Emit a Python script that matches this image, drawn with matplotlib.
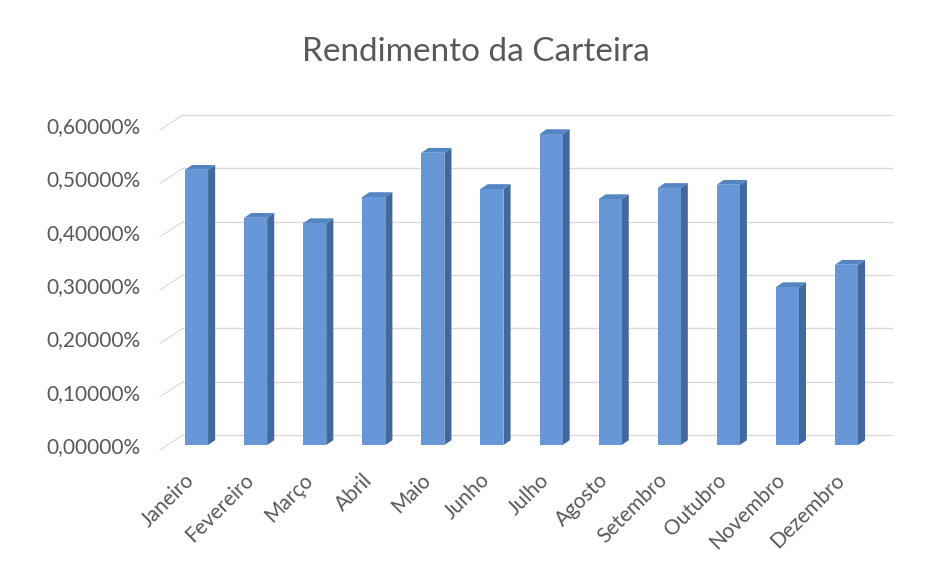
import matplotlib
matplotlib.use("Agg")
import matplotlib.pyplot as plt
from matplotlib.patches import Polygon
from matplotlib.transforms import ScaledTranslation

# Data (% values)
months = ['Janeiro', 'Fevereiro', 'Março', 'Abril', 'Maio', 'Junho',
          'Julho', 'Agosto', 'Setembro', 'Outubro', 'Novembro', 'Dezembro']
rendimento = [0.516, 0.426, 0.416, 0.465, 0.548, 0.480,
              0.583, 0.461, 0.482, 0.488, 0.296, 0.338]
yticks = [0.0, 0.1, 0.2, 0.3, 0.4, 0.5, 0.6]

# Style
FRONT = '#6797d6'
SIDE = '#41699d'
TOP = '#5584c2'
TEXT = '#595959'
GRID = '#d9d9d9'
BAR_W = 0.39
DEPTH_X = 0.12     # bar side depth in x data units
DEPTH_Y = 0.009    # bar side depth in y data units

plt.rcParams['font.family'] = ['Lato', 'DejaVu Sans']

fig = plt.figure(figsize=(9.31, 5.74), dpi=100)
ax = fig.add_axes([167 / 931, (574 - 445) / 574, 709 / 931, 320 / 574])
ax.set_xlim(-0.5, len(months) - 0.5)
ax.set_ylim(0, 0.6)
for s in ax.spines.values():
    s.set_visible(False)

# back wall gridlines (shifted up/right to fake the 3D wall)
back = ax.transData + ScaledTranslation(16 / 100, 10 / 100, fig.dpi_scale_trans)
for v in yticks:
    ax.plot([-0.5, len(months) - 0.5], [v, v], color=GRID, lw=1,
            transform=back, clip_on=False, zorder=0)
    # side wall lines
    ax.plot([-0.5 - 7 / 59, -0.5 + 16 / 59], [v - 5 / 533, v + 10 / 533],
            color=GRID, lw=0.8, clip_on=False, zorder=0)

# 3D-ish columns
x = range(len(months))
ax.bar(x, rendimento, width=BAR_W, color=FRONT, zorder=3)
for i, v in zip(x, rendimento):
    r = i + BAR_W / 2
    l = i - BAR_W / 2
    ax.add_patch(Polygon([(r, 0), (r + DEPTH_X, DEPTH_Y), (r + DEPTH_X, v + DEPTH_Y), (r, v)],
                         closed=True, facecolor=SIDE, edgecolor='none', zorder=2, clip_on=False))
    ax.add_patch(Polygon([(l, v), (r, v), (r + DEPTH_X, v + DEPTH_Y), (l + DEPTH_X, v + DEPTH_Y)],
                         closed=True, facecolor=TOP, edgecolor='none', zorder=2, clip_on=False))

ax.set_yticks(yticks)
ax.set_yticklabels([f"{v:.5f}%".replace('.', ',') for v in yticks], color=TEXT, fontsize=15)
ax.set_xticks(list(x))
ax.set_xticklabels(months, rotation=45, ha='right', va='center', rotation_mode='anchor',
                   color=TEXT, fontsize=15)
ax.tick_params(axis='y', length=0, pad=19)
ax.tick_params(axis='x', length=0, pad=23)
shift = ScaledTranslation(-5 / 100, 0, fig.dpi_scale_trans)
for lab in ax.get_xticklabels():
    lab.set_transform(lab.get_transform() + shift)

fig.text(476 / 931, 1 - 52 / 574, 'Rendimento da Carteira', ha='center', va='center',
         color=TEXT, fontsize=24)

fig.savefig('out.png', dpi=100, facecolor='white')
